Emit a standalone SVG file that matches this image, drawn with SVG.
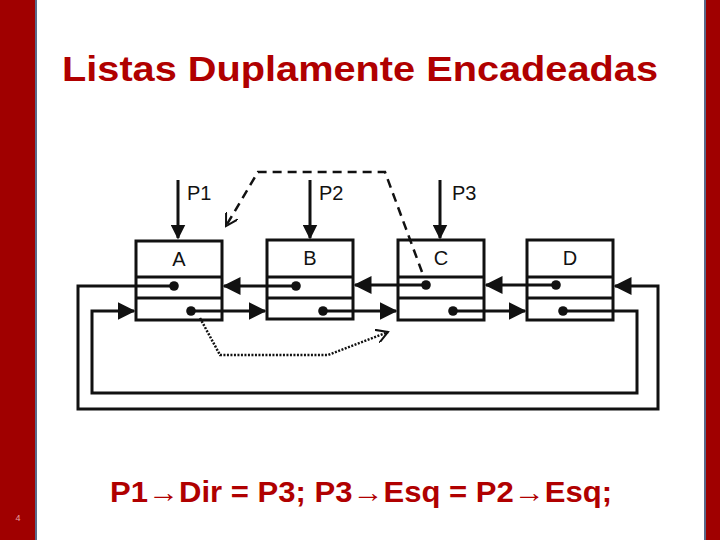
<svg xmlns="http://www.w3.org/2000/svg" width="720" height="540" viewBox="0 0 720 540">
<style>
.box{fill:#fff;stroke:#111;stroke-width:3}
.ln{fill:none;stroke:#111;stroke-width:3}
.lt{font-family:"Liberation Sans",Arial,sans-serif;font-size:20px;fill:#111}
.red{font-family:"Liberation Sans",Arial,sans-serif;font-weight:bold;fill:#b00000}
</style>
<defs>
<marker id="ah" markerWidth="6" markerHeight="6" refX="5.5" refY="3" orient="auto" markerUnits="strokeWidth"><path d="M0,0L6,3L0,6z" fill="#111"/></marker>
<marker id="ah2" markerWidth="5" markerHeight="5" refX="4.5" refY="2.5" orient="auto" markerUnits="strokeWidth"><path d="M0,0L5,2.5L0,5z" fill="#111"/></marker>
<marker id="open" markerWidth="14" markerHeight="14" refX="12" refY="7" orient="auto" markerUnits="userSpaceOnUse"><path d="M0,0L12,7L0,14" fill="none" stroke="#111" stroke-width="2"/></marker>
<marker id="dot" markerWidth="4" markerHeight="4" refX="2" refY="2" orient="auto" markerUnits="strokeWidth"><circle cx="2" cy="2" r="1.6" fill="#111"/></marker>
</defs>
<rect width="720" height="540" fill="#fff"/>
<rect x="0" y="0" width="36" height="540" fill="#a00000"/>
<rect x="35" y="0" width="2" height="540" fill="#5a6a8a"/>
<rect x="705" y="0" width="15" height="540" fill="#a00000"/>
<rect x="704" y="0" width="2" height="540" fill="#5a6a8a"/>
<text class="red" x="62" y="81" font-size="35" textLength="596" lengthAdjust="spacingAndGlyphs">Listas Duplamente Encadeadas</text>
<text class="red" x="110" y="502" font-size="29" textLength="502" lengthAdjust="spacingAndGlyphs">P1→Dir = P3; P3→Esq = P2→Esq;</text>
<text x="18" y="521" font-family="Liberation Sans,sans-serif" font-size="9" fill="#e8a0a0" text-anchor="middle">4</text>
<g id="A"><rect class="box" x="136" y="241" width="86" height="79"/><path class="ln" d="M136,277H222M136,298H222"/><text class="lt" x="179" y="266" text-anchor="middle">A</text></g>
<g id="B"><rect class="box" x="267" y="240" width="86" height="79"/><path class="ln" d="M267,277H353M267,298H353"/><text class="lt" x="310" y="265" text-anchor="middle">B</text></g>
<g id="C"><rect class="box" x="398" y="240" width="86" height="80"/><path class="ln" d="M398,277H484M398,298H484"/><text class="lt" x="441" y="265" text-anchor="middle">C</text></g>
<g id="D"><rect class="box" x="527" y="240" width="86" height="80"/><path class="ln" d="M527,277H613M527,298H613"/><text class="lt" x="570" y="265" text-anchor="middle">D</text></g>
<g id="connectors">
<path class="ln" d="M178,180V238" marker-end="url(#ah2)"/><text class="lt" x="187" y="200">P1</text>
<path class="ln" d="M310,180V238" marker-end="url(#ah2)"/><text class="lt" x="319" y="200">P2</text>
<path class="ln" d="M440,180V238" marker-end="url(#ah2)"/><text class="lt" x="452" y="200">P3</text>
<path class="ln" d="M191,311H265" marker-start="url(#dot)" marker-end="url(#ah)"/>
<path class="ln" d="M296,286H224" marker-start="url(#dot)" marker-end="url(#ah)"/>
<path class="ln" d="M323,311H396" marker-start="url(#dot)" marker-end="url(#ah)"/>
<path class="ln" d="M426,285H355" marker-start="url(#dot)" marker-end="url(#ah)"/>
<path class="ln" d="M453,311H525" marker-start="url(#dot)" marker-end="url(#ah)"/>
<path class="ln" d="M556,285H486" marker-start="url(#dot)" marker-end="url(#ah)"/>
<path class="ln" d="M563,311H637V393H92V311H134" marker-start="url(#dot)" marker-end="url(#ah)"/>
<path class="ln" d="M174,286H78V409H658V286H615" marker-start="url(#dot)" marker-end="url(#ah)"/>
<path d="M422,272L385,172H258L226,226" fill="none" stroke="#111" stroke-width="2.5" stroke-dasharray="9,6" marker-end="url(#open)"/>
<path d="M200,318L220,355H328L388,332" fill="none" stroke="#111" stroke-width="2.5" stroke-dasharray="2,1.5" marker-end="url(#open)"/>
</g>
</svg>
